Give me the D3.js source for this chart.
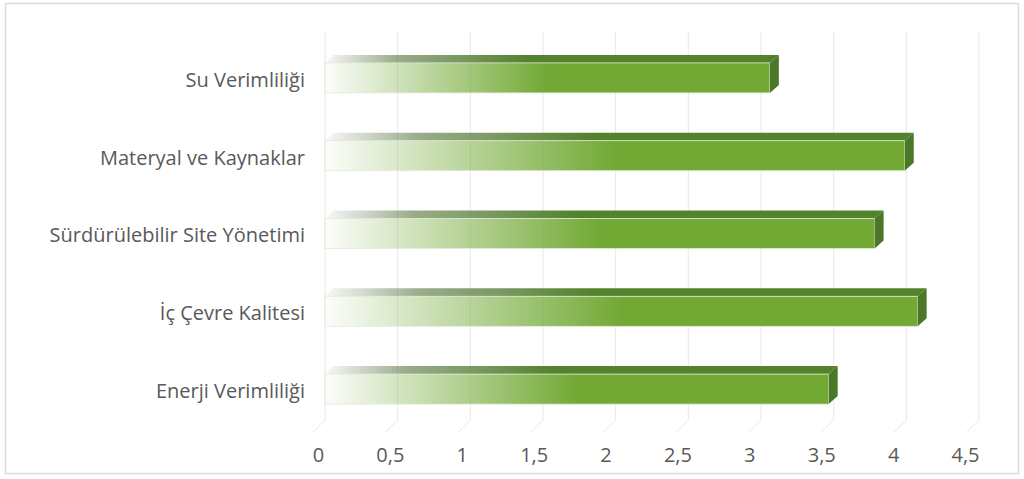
<!DOCTYPE html>
<html>
<head>
<meta charset="utf-8">
<script src="https://cdn.jsdelivr.net/npm/d3@7/dist/d3.min.js"></script>
<style>
  html, body { margin: 0; padding: 0; background: #ffffff; }
  svg { display: block; }
  .lbl text { font-family: "Open Sans", sans-serif; fill: #595959; }
</style>
</head>
<body>
<svg id="chart" width="1024" height="479"></svg>
<script>
// ---- data ----
const categories = [
  "Su Verimliliği",
  "Materyal ve Kaynaklar",
  "Sürdürülebilir Site Yönetimi",
  "İç Çevre Kalitesi",
  "Enerji Verimliliği"
];
const values = [3.1, 4.04, 3.83, 4.13, 3.51];
const tickValues = [0, 0.5, 1, 1.5, 2, 2.5, 3, 3.5, 4, 4.5];
const tickLabels = ["0", "0,5", "1", "1,5", "2", "2,5", "3", "3,5", "4", "4,5"];

// ---- layout ----
const svg = d3.select("#chart");
const defs = svg.append("defs");

const xFace  = d3.scaleLinear().domain([0, 4.5]).range([325, 970.75]); // bar front faces
const xBack  = d3.scaleLinear().domain([0, 4.5]).range([325, 979]);    // back wall gridlines
const xFront = d3.scaleLinear().domain([0, 4.5]).range([318, 965]);    // floor front (labels)
const y = d3.scaleBand().domain(categories).range([39, 428]).paddingInner(0.614).paddingOuter(0.307);
const bw = y.bandwidth();
const dx = 9, dy = -8;
const wallTop = 32, floorBack = 420, floorFront = 432, floorShift = -12;

// border
svg.append("rect")
  .attr("x", 5.5).attr("y", 3.5).attr("width", 1013).attr("height", 470)
  .attr("fill", "#ffffff").attr("stroke", "#dcdcdc").attr("stroke-width", 1.5);

// gradients
const gFront = defs.append("linearGradient").attr("id", "gFront")
  .attr("x1", "0").attr("x2", "0.5").attr("y1", "0").attr("y2", "0");
gFront.append("stop").attr("offset", "0").attr("stop-color", "#72a935").attr("stop-opacity", 0.02);
gFront.append("stop").attr("offset", "1").attr("stop-color", "#72a935").attr("stop-opacity", 1);

const gTop = defs.append("linearGradient").attr("id", "gTop")
  .attr("x1", "0").attr("x2", "0.45").attr("y1", "0").attr("y2", "0");
gTop.append("stop").attr("offset", "0").attr("stop-color", "#6e7f60").attr("stop-opacity", 0.05);
gTop.append("stop").attr("offset", "0.35").attr("stop-color", "#62804a").attr("stop-opacity", 0.65);
gTop.append("stop").attr("offset", "1").attr("stop-color", "#52822b").attr("stop-opacity", 1);

// gridlines (back wall + floor)
const grid = svg.append("g").attr("stroke", "#e8e8e8").attr("stroke-width", 1).attr("fill", "none");
grid.selectAll("path").data(tickValues).join("path")
  .attr("d", v => `M${xBack(v)},${wallTop}V${floorBack}L${xBack(v) + floorShift},${floorFront}`);

// bars
const bars = svg.append("g").selectAll("g").data(categories).join("g");
bars.each(function(c, i) {
  const g = d3.select(this);
  const x0 = xFace(0), x1 = xFace(values[i]), yt = y(c);
  // top face
  g.append("path")
    .attr("d", `M${x0},${yt}L${x0 + dx},${yt + dy}L${x1 + dx},${yt + dy}L${x1},${yt}Z`)
    .attr("fill", "url(#gTop)");
  // front face
  g.append("rect")
    .attr("x", x0).attr("y", yt).attr("width", x1 - x0).attr("height", bw)
    .attr("fill", "url(#gFront)")
    .attr("stroke", "#e3ead8").attr("stroke-width", 0.8);
  // side face
  g.append("path")
    .attr("d", `M${x1},${yt}L${x1 + dx},${yt + dy}L${x1 + dx},${yt + dy + bw}L${x1},${yt + bw}Z`)
    .attr("fill", "#4b7828");
});

// category axis
const yAxis = d3.axisLeft(d3.scalePoint().domain(categories)
    .range([y(categories[0]) + bw / 2 + 2, y(categories[categories.length - 1]) + bw / 2 + 2]))
  .tickSize(0).tickPadding(0);
svg.append("g").attr("class", "lbl").attr("transform", "translate(305,0)").call(yAxis)
  .call(g => g.select(".domain").remove())
  .selectAll("text").attr("font-size", 20).style("font-family", "'Open Sans', sans-serif").attr("fill", "#595959");

// value axis (floor front)
const xAxis = d3.axisBottom(xFront).tickValues(tickValues)
  .tickFormat((d, i) => tickLabels[i]).tickSize(0).tickPadding(0);
svg.append("g").attr("class", "lbl").attr("transform", "translate(0,448)").call(xAxis)
  .call(g => g.select(".domain").remove())
  .selectAll("text").attr("font-size", 20).style("font-family", "'Open Sans', sans-serif").attr("fill", "#595959");
</script>
</body>
</html>
